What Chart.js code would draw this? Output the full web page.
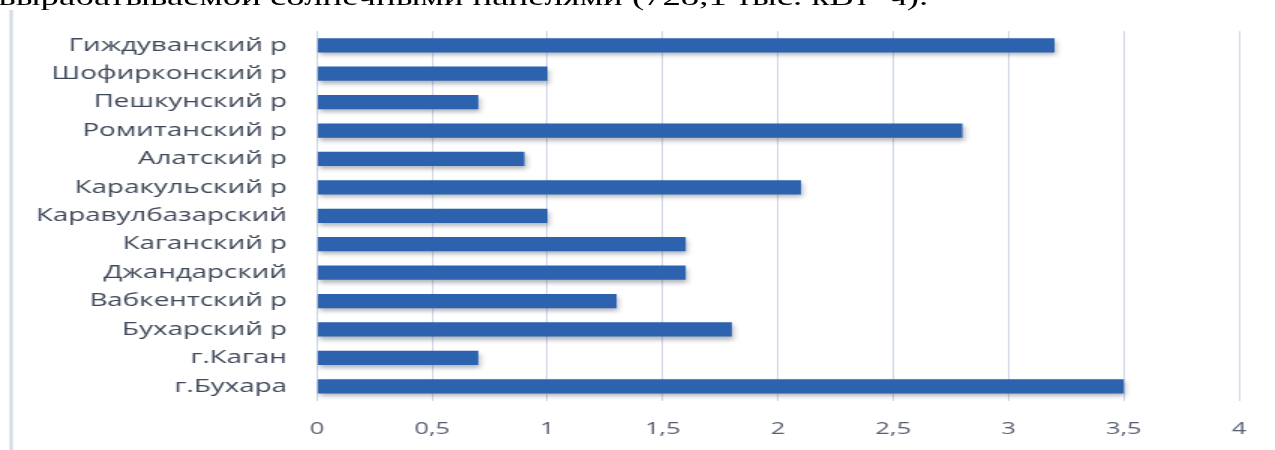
<!DOCTYPE html>
<html lang="ru">
<head>
<meta charset="utf-8">
<title>Солнечные панели по районам</title>
<script src="https://cdn.jsdelivr.net/npm/chart.js@4/dist/chart.umd.min.js"></script>
<style>
    html, body {
        margin: 0;
        padding: 0;
        background: #ffffff;
        overflow: hidden;
    }
    #wrap {
        position: relative;
        width: 850px;
        height: 450px;
        transform: scaleX(1.5);
        transform-origin: 0 0;
    }
    #caption {
        position: absolute;
        left: -1px;
        top: -15px;
        font-family: "Liberation Serif", "Times New Roman", serif;
        font-size: 24.5px;
        line-height: 1;
        color: #000000;
        white-space: nowrap;
    }
    #chart {
        position: absolute;
        left: 0;
        top: 0;
    }
</style>
</head>
<body>
<div id="wrap">
    <div id="caption">вырабатываемой солнечными панелями (728,1 тыс. кВт*ч).</div>
    <canvas id="chart" width="850" height="450"></canvas>
</div>
<script>
const districts = [
    'Гиждуванский р',
    'Шофирконский р',
    'Пешкунский р',
    'Ромитанский р',
    'Алатский р',
    'Каракульский р',
    'Каравулбазарский',
    'Каганский р',
    'Джандарский',
    'Вабкентский р',
    'Бухарский р',
    'г.Каган',
    'г.Бухара'
];
const power = [3.2, 1.0, 0.7, 2.8, 0.9, 2.1, 1.0, 1.6, 1.6, 1.3, 1.8, 0.7, 3.5];
const axisMin = 0;
const axisMax = 4;
const axisStep = 0.5;

// soft drop shadow under the bars
const barShadow = {
    id: 'barShadow',
    beforeDatasetsDraw(chart) {
        const ctx = chart.ctx;
        ctx.save();
        ctx.shadowColor = 'rgba(40, 50, 70, 0.35)';
        ctx.shadowBlur = 4;
        ctx.shadowOffsetX = 1;
        ctx.shadowOffsetY = 3;
    },
    afterDatasetsDraw(chart) {
        chart.ctx.restore();
    }
};

// left edge of the chart frame
const frameEdge = {
    id: 'frameEdge',
    beforeDraw(chart) {
        const ctx = chart.ctx;
        ctx.save();
        ctx.strokeStyle = '#cdd7e6';
        ctx.lineWidth = 2;
        ctx.beginPath();
        ctx.moveTo(7.5, 10);
        ctx.lineTo(7.5, chart.height);
        ctx.stroke();
        ctx.restore();
    }
};

function createChart() {
    const ctx = document.getElementById('chart').getContext('2d');
    return new Chart(ctx, {
        type: 'bar',
        data: {
            labels: districts,
            datasets: [{
                data: power,
                backgroundColor: '#2d62ae',
                borderWidth: 0,
                barPercentage: 0.5,
                categoryPercentage: 1.0
            }]
        },
        options: {
            indexAxis: 'y',
            responsive: false,
            animation: false,
            layout: {
                padding: { top: 22, right: 24, bottom: 0, left: 0 }
            },
            plugins: {
                legend: { display: false },
                tooltip: { enabled: false }
            },
            scales: {
                x: {
                    min: axisMin,
                    max: axisMax,
                    border: { display: false },
                    grid: {
                        color: '#cfd7e4',
                        lineWidth: 1,
                        drawTicks: false
                    },
                    ticks: {
                        stepSize: axisStep,
                        padding: 18,
                        color: '#586073',
                        font: { family: 'Open Sans', size: 17 },
                        callback: value => String(value).replace('.', ',')
                    },
                    afterFit(scale) {
                        scale.height = 49.5;
                    }
                },
                y: {
                    border: { display: false },
                    grid: { display: false, drawTicks: false },
                    ticks: {
                        padding: 20,
                        color: '#3f485a',
                        font: { family: 'Open Sans', size: 18.5 }
                    },
                    afterFit(scale) {
                        scale.width = 211.3;
                    }
                }
            }
        },
        plugins: [barShadow, frameEdge]
    });
}

createChart();
</script>
</body>
</html>
